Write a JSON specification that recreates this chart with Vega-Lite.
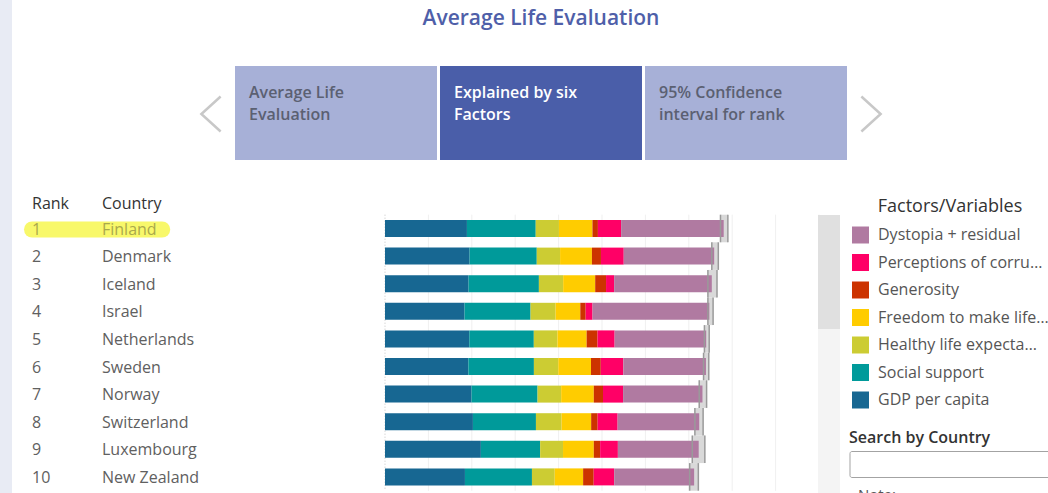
{
  "$schema": "https://vega.github.io/schema/vega-lite/v6.json",
  "width": 1048,
  "height": 493,
  "autosize": "none",
  "padding": 0,
  "background": "white",
  "config": {"view": {"stroke": null}, "font": "Open Sans"},
  "title": {"text": "Average Life Evaluation", "fontSize": 21, "font": "Open Sans", "fontWeight": 600, "color": "#4f5fa9", "anchor": "middle", "frame": "group", "offset": -29, "dx": 17},
  "datasets": {
    "countries": [
      {"Rank": 1, "Country": "Finland", "Score": 7.804, "Lower": 7.73, "Upper": 7.9},
      {"Rank": 2, "Country": "Denmark", "Score": 7.586, "Lower": 7.53, "Upper": 7.68},
      {"Rank": 3, "Country": "Iceland", "Score": 7.53, "Lower": 7.44, "Upper": 7.65},
      {"Rank": 4, "Country": "Israel", "Score": 7.473, "Lower": 7.44, "Upper": 7.56},
      {"Rank": 5, "Country": "Netherlands", "Score": 7.403, "Lower": 7.36, "Upper": 7.47},
      {"Rank": 6, "Country": "Sweden", "Score": 7.395, "Lower": 7.34, "Upper": 7.46},
      {"Rank": 7, "Country": "Norway", "Score": 7.315, "Lower": 7.24, "Upper": 7.41},
      {"Rank": 8, "Country": "Switzerland", "Score": 7.24, "Lower": 7.14, "Upper": 7.33},
      {"Rank": 9, "Country": "Luxembourg", "Score": 7.228, "Lower": 7.08, "Upper": 7.37},
      {"Rank": 10, "Country": "New Zealand", "Score": 7.123, "Lower": 7.02, "Upper": 7.22}
    ],
    "factorOrder": [
      {"Factor": "GDP per capita", "StackOrder": 1},
      {"Factor": "Social support", "StackOrder": 2},
      {"Factor": "Healthy life expectancy", "StackOrder": 3},
      {"Factor": "Freedom to make life choices", "StackOrder": 4},
      {"Factor": "Generosity", "StackOrder": 5},
      {"Factor": "Perceptions of corruption", "StackOrder": 6},
      {"Factor": "Dystopia + residual", "StackOrder": 7}
    ],
    "gridlines": [
      {"Gridline": 0}, {"Gridline": 1}, {"Gridline": 2}, {"Gridline": 3}, {"Gridline": 4}, {"Gridline": 5},
      {"Gridline": 6}, {"Gridline": 7}, {"Gridline": 8}, {"Gridline": 9}, {"Gridline": 10}
    ],
    "factors": [
      {"Country": "Finland", "Factor": "GDP per capita", "Value": 1.888},
      {"Country": "Finland", "Factor": "Social support", "Value": 1.585},
      {"Country": "Finland", "Factor": "Healthy life expectancy", "Value": 0.535},
      {"Country": "Finland", "Factor": "Freedom to make life choices", "Value": 0.772},
      {"Country": "Finland", "Factor": "Generosity", "Value": 0.126},
      {"Country": "Finland", "Factor": "Perceptions of corruption", "Value": 0.535},
      {"Country": "Finland", "Factor": "Dystopia + residual", "Value": 2.363},
      {"Country": "Denmark", "Factor": "GDP per capita", "Value": 1.949},
      {"Country": "Denmark", "Factor": "Social support", "Value": 1.548},
      {"Country": "Denmark", "Factor": "Healthy life expectancy", "Value": 0.537},
      {"Country": "Denmark", "Factor": "Freedom to make life choices", "Value": 0.734},
      {"Country": "Denmark", "Factor": "Generosity", "Value": 0.208},
      {"Country": "Denmark", "Factor": "Perceptions of corruption", "Value": 0.525},
      {"Country": "Denmark", "Factor": "Dystopia + residual", "Value": 2.084},
      {"Country": "Iceland", "Factor": "GDP per capita", "Value": 1.926},
      {"Country": "Iceland", "Factor": "Social support", "Value": 1.62},
      {"Country": "Iceland", "Factor": "Healthy life expectancy", "Value": 0.559},
      {"Country": "Iceland", "Factor": "Freedom to make life choices", "Value": 0.738},
      {"Country": "Iceland", "Factor": "Generosity", "Value": 0.25},
      {"Country": "Iceland", "Factor": "Perceptions of corruption", "Value": 0.187},
      {"Country": "Iceland", "Factor": "Dystopia + residual", "Value": 2.25},
      {"Country": "Israel", "Factor": "GDP per capita", "Value": 1.833},
      {"Country": "Israel", "Factor": "Social support", "Value": 1.521},
      {"Country": "Israel", "Factor": "Healthy life expectancy", "Value": 0.577},
      {"Country": "Israel", "Factor": "Freedom to make life choices", "Value": 0.569},
      {"Country": "Israel", "Factor": "Generosity", "Value": 0.124},
      {"Country": "Israel", "Factor": "Perceptions of corruption", "Value": 0.158},
      {"Country": "Israel", "Factor": "Dystopia + residual", "Value": 2.691},
      {"Country": "Netherlands", "Factor": "GDP per capita", "Value": 1.942},
      {"Country": "Netherlands", "Factor": "Social support", "Value": 1.487},
      {"Country": "Netherlands", "Factor": "Healthy life expectancy", "Value": 0.545},
      {"Country": "Netherlands", "Factor": "Freedom to make life choices", "Value": 0.672},
      {"Country": "Netherlands", "Factor": "Generosity", "Value": 0.251},
      {"Country": "Netherlands", "Factor": "Perceptions of corruption", "Value": 0.394},
      {"Country": "Netherlands", "Factor": "Dystopia + residual", "Value": 2.11},
      {"Country": "Sweden", "Factor": "GDP per capita", "Value": 1.921},
      {"Country": "Sweden", "Factor": "Social support", "Value": 1.51},
      {"Country": "Sweden", "Factor": "Healthy life expectancy", "Value": 0.562},
      {"Country": "Sweden", "Factor": "Freedom to make life choices", "Value": 0.754},
      {"Country": "Sweden", "Factor": "Generosity", "Value": 0.225},
      {"Country": "Sweden", "Factor": "Perceptions of corruption", "Value": 0.52},
      {"Country": "Sweden", "Factor": "Dystopia + residual", "Value": 1.903},
      {"Country": "Norway", "Factor": "GDP per capita", "Value": 1.994},
      {"Country": "Norway", "Factor": "Social support", "Value": 1.521},
      {"Country": "Norway", "Factor": "Healthy life expectancy", "Value": 0.544},
      {"Country": "Norway", "Factor": "Freedom to make life choices", "Value": 0.752},
      {"Country": "Norway", "Factor": "Generosity", "Value": 0.212},
      {"Country": "Norway", "Factor": "Perceptions of corruption", "Value": 0.463},
      {"Country": "Norway", "Factor": "Dystopia + residual", "Value": 1.829},
      {"Country": "Switzerland", "Factor": "GDP per capita", "Value": 2.026},
      {"Country": "Switzerland", "Factor": "Social support", "Value": 1.452},
      {"Country": "Switzerland", "Factor": "Healthy life expectancy", "Value": 0.591},
      {"Country": "Switzerland", "Factor": "Freedom to make life choices", "Value": 0.681},
      {"Country": "Switzerland", "Factor": "Generosity", "Value": 0.15},
      {"Country": "Switzerland", "Factor": "Perceptions of corruption", "Value": 0.46},
      {"Country": "Switzerland", "Factor": "Dystopia + residual", "Value": 1.88},
      {"Country": "Luxembourg", "Factor": "GDP per capita", "Value": 2.209},
      {"Country": "Luxembourg", "Factor": "Social support", "Value": 1.366},
      {"Country": "Luxembourg", "Factor": "Healthy life expectancy", "Value": 0.527},
      {"Country": "Luxembourg", "Factor": "Freedom to make life choices", "Value": 0.709},
      {"Country": "Luxembourg", "Factor": "Generosity", "Value": 0.146},
      {"Country": "Luxembourg", "Factor": "Perceptions of corruption", "Value": 0.409},
      {"Country": "Luxembourg", "Factor": "Dystopia + residual", "Value": 1.862},
      {"Country": "New Zealand", "Factor": "GDP per capita", "Value": 1.842},
      {"Country": "New Zealand", "Factor": "Social support", "Value": 1.544},
      {"Country": "New Zealand", "Factor": "Healthy life expectancy", "Value": 0.525},
      {"Country": "New Zealand", "Factor": "Freedom to make life choices", "Value": 0.654},
      {"Country": "New Zealand", "Factor": "Generosity", "Value": 0.244},
      {"Country": "New Zealand", "Factor": "Perceptions of corruption", "Value": 0.472},
      {"Country": "New Zealand", "Factor": "Dystopia + residual", "Value": 1.842}
    ],
    "tabs": [
      {"Tab": "Average Life Evaluation", "Label": "Average Life\nEvaluation", "Selected": false},
      {"Tab": "Explained by six Factors", "Label": "Explained by six\nFactors", "Selected": true},
      {"Tab": "95% Confidence interval for rank", "Label": "95% Confidence\ninterval for rank", "Selected": false}
    ]
  },
  "layer": [
    {
      "data": {"values": [{"Element": "sidebar"}]},
      "mark": {"type": "rect", "color": "#e8ebf4"},
      "encoding": {
        "x": {"datum": 0, "type": "quantitative", "scale": {"domain": [0, 1], "range": [0, 12]}, "axis": null},
        "x2": {"datum": 1},
        "y": {"datum": 0, "type": "quantitative", "scale": {"domain": [0, 1], "range": [0, 493]}, "axis": null},
        "y2": {"datum": 1}
      }
    },
    {
      "data": {"name": "tabs"},
      "encoding": {
        "x": {"field": "Tab", "type": "nominal", "sort": null, "bandPosition": 0, "scale": {"type": "band", "range": [235, 847], "paddingInner": 0.0146, "paddingOuter": 0}, "axis": null},
        "y": {"datum": 0, "type": "quantitative", "scale": {"domain": [0, 1], "range": [66, 160]}, "axis": null}
      },
      "layer": [
        {
          "mark": {"type": "rect"},
          "encoding": {
            "x": {"field": "Tab", "type": "nominal", "sort": null},
            "y2": {"datum": 1},
            "color": {"condition": {"test": "datum.Selected", "value": "#4a5ea9"}, "value": "#a7b0d7"}
          }
        },
        {
          "mark": {"type": "text", "align": "left", "baseline": "alphabetic", "dx": 14, "dy": 32, "lineBreak": "\n", "lineHeight": 22, "fontSize": 16, "fontWeight": 600},
          "encoding": {
            "text": {"field": "Label"},
            "color": {"condition": {"test": "datum.Selected", "value": "#ffffff"}, "value": "#5b6072"}
          }
        }
      ]
    },
    {
      "data": {"values": [{"Direction": "previous"}, {"Direction": "next"}]},
      "mark": {"type": "point", "filled": false, "strokeWidth": 2.5, "color": "#c8c8c8", "size": 1225, "opacity": 1, "strokeJoin": "miter"},
      "encoding": {
        "x": {"field": "Direction", "type": "nominal", "sort": null, "scale": {"type": "point", "range": [211, 871], "padding": 0}, "axis": null},
        "y": {"datum": 0.5, "type": "quantitative", "scale": {"domain": [0, 1], "range": [66, 162]}, "axis": null},
        "shape": {"field": "Direction", "type": "nominal", "scale": {"domain": ["previous", "next"], "range": ["M 0.55 -1 L -0.55 0 L 0.55 1", "M -0.55 -1 L 0.55 0 L -0.55 1"]}, "legend": null}
      }
    },
    {
      "data": {"name": "countries"},
      "encoding": {
        "y": {"field": "Country", "type": "nominal", "scale": {"type": "band", "domain": ["Finland", "Denmark", "Iceland", "Israel", "Netherlands", "Sweden", "Norway", "Switzerland", "Luxembourg", "New Zealand"], "range": [215.7, 491.7], "paddingInner": 0, "paddingOuter": 0}, "axis": null}
      },
      "layer": [
        {
          "transform": [{"filter": "datum.Rank === 1"}],
          "mark": {"type": "rule", "strokeWidth": 16, "strokeCap": "round", "color": "#f8f86a"},
          "encoding": {
            "x": {"datum": "Rank", "type": "nominal", "bandPosition": 0, "scale": {"type": "band", "domain": ["Rank", "Country"], "range": [32, 172], "paddingInner": 0, "paddingOuter": 0},
              "axis": {"orient": "top", "offset": -203, "bandPosition": 0, "labelOffset": -35, "labelAlign": "left", "labelBaseline": "middle", "labelPadding": 0, "ticks": false, "tickSize": 0, "domain": false, "grid": false, "title": null, "labelFontSize": 16, "labelColor": "#333333", "labelFont": "Open Sans", "labelAngle": 0}},
            "x2": {"datum": "Country", "bandPosition": 0.86}
          }
        },
        {
          "mark": {"type": "text", "align": "left", "baseline": "middle", "fontSize": 16},
          "encoding": {
            "x": {"datum": "Rank", "type": "nominal", "bandPosition": 0},
            "text": {"field": "Rank"},
            "color": {"condition": {"test": "datum.Rank === 1", "value": "#aaa94c"}, "value": "#606060"}
          }
        },
        {
          "mark": {"type": "text", "align": "left", "baseline": "middle", "fontSize": 16},
          "encoding": {
            "x": {"datum": "Country", "type": "nominal", "bandPosition": 0},
            "text": {"field": "Country"},
            "color": {"condition": {"test": "datum.Rank === 1", "value": "#aaa94c"}, "value": "#606060"}
          }
        }
      ]
    },
    {
      "encoding": {
        "y": {"field": "Country", "type": "nominal", "scale": {"type": "band", "domain": ["Finland", "Denmark", "Iceland", "Israel", "Netherlands", "Sweden", "Norway", "Switzerland", "Luxembourg", "New Zealand"], "range": [214.7, 490.7], "paddingInner": 0, "paddingOuter": 0}, "axis": null}
      },
      "layer": [
        {
          "data": {"name": "gridlines"},
          "mark": {"type": "rule", "strokeWidth": 1},
          "encoding": {
            "x": {"field": "Gridline", "type": "quantitative", "scale": {"domain": [0, 10], "range": [385, 819], "nice": false, "zero": false}, "axis": null},
            "y": {"datum": "Finland", "bandPosition": 0},
            "y2": {"datum": "New Zealand", "bandPosition": 1},
            "color": {"condition": {"test": "datum.Gridline === 0", "value": "#c4c4c4"}, "value": "#ececec"},
            "strokeDash": {"condition": {"test": "datum.Gridline === 0", "value": [1, 2]}, "value": [1, 0]}
          }
        },
        {
          "data": {"name": "countries"},
          "mark": {"type": "rect", "color": "#d9d9d9"},
          "encoding": {
            "x": {"field": "Lower", "type": "quantitative"},
            "x2": {"field": "Upper"}
          }
        },
        {
          "data": {"name": "factors"},
          "transform": [{"lookup": "Factor", "from": {"data": {"name": "factorOrder"}, "key": "Factor", "fields": ["StackOrder"]}}],
          "mark": {"type": "bar", "height": 17},
          "encoding": {
            "x": {"field": "Value", "type": "quantitative", "stack": "zero", "title": null},
            "order": {"field": "StackOrder", "type": "quantitative", "sort": "ascending"},
            "color": {"field": "Factor", "type": "nominal",
              "scale": {"domain": ["Dystopia + residual", "Perceptions of corruption", "Generosity", "Freedom to make life choices", "Healthy life expectancy", "Social support", "GDP per capita"],
                "range": ["#b07aa1", "#ff0066", "#cc3300", "#ffcc00", "#cccc33", "#009a9a", "#176792"]},
              "legend": {"orient": "none", "legendX": 852, "legendY": 198, "title": "Factors/Variables", "titleAnchor": "middle", "titleFontSize": 18, "titleColor": "#333333", "titleFont": "Open Sans", "titleFontWeight": "normal", "titlePadding": 10.5, "labelFontSize": 16, "labelColor": "#555555", "labelFont": "Open Sans", "labelLimit": 172,
                "labelExpr": "datum.label === 'Healthy life expectancy' ? 'Healthy life expecta…' : datum.label",
                "symbolType": "square", "symbolSize": 289, "symbolStrokeWidth": 0, "symbolOpacity": 1, "rowPadding": 10.5, "labelOffset": 9, "padding": 0, "offset": 0}
            }
          }
        },
        {
          "data": {"name": "countries"},
          "mark": {"type": "tick", "orient": "vertical", "size": 27.6, "thickness": 1.5, "color": "#9a9a9a", "opacity": 1},
          "encoding": {"x": {"field": "Lower", "type": "quantitative"}}
        },
        {
          "data": {"name": "countries"},
          "mark": {"type": "tick", "orient": "vertical", "size": 27.6, "thickness": 1.5, "color": "#9a9a9a", "opacity": 1},
          "encoding": {"x": {"field": "Upper", "type": "quantitative"}}
        }
      ]
    },
    {
      "data": {"values": [{"Element": "scrollbar"}]},
      "encoding": {
        "x": {"datum": 0, "type": "quantitative", "scale": {"domain": [0, 1], "range": [818, 840]}, "axis": null},
        "x2": {"datum": 1}
      },
      "layer": [
        {
          "mark": {"type": "rect", "color": "#f4f4f4"},
          "encoding": {
            "y": {"datum": 0, "type": "quantitative", "scale": {"domain": [0, 1], "range": [215, 493]}, "axis": null},
            "y2": {"datum": 1}
          }
        },
        {
          "mark": {"type": "rect", "color": "#e0e0e0"},
          "encoding": {
            "y": {"datum": 0, "type": "quantitative"},
            "y2": {"datum": 0.41}
          }
        }
      ]
    },
    {
      "data": {"values": [{"Label": "Search by Country", "Note": "Note:"}]},
      "encoding": {
        "x": {"datum": 0, "type": "quantitative", "scale": {"domain": [0, 1], "range": [850, 1062]}, "axis": null},
        "y": {"datum": 0, "type": "quantitative", "scale": {"domain": [0, 1], "range": [451.5, 477.5]}, "axis": null}
      },
      "layer": [
        {
          "mark": {"type": "rect", "fill": "white", "stroke": "#a3a3a3", "strokeWidth": 1, "cornerRadius": 2},
          "encoding": {"x2": {"datum": 1}, "y2": {"datum": 1}}
        },
        {
          "mark": {"type": "text", "align": "left", "baseline": "middle", "dx": -1, "dy": -13.5, "fontSize": 16, "fontWeight": 600, "color": "#333333"},
          "encoding": {"text": {"field": "Label"}}
        },
        {
          "mark": {"type": "text", "align": "left", "baseline": "alphabetic", "dx": 8, "dy": 22, "fontSize": 15, "color": "#555555"},
          "encoding": {"y": {"datum": 1, "type": "quantitative"}, "text": {"field": "Note"}}
        }
      ]
    }
  ],
  "resolve": {"scale": {"x": "independent", "y": "independent", "color": "independent", "shape": "independent", "strokeDash": "independent"}, "axis": {"x": "independent", "y": "independent"}}
}
